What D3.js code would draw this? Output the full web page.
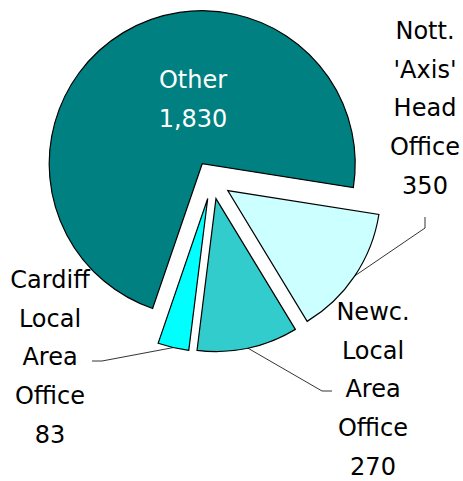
<!DOCTYPE html>
<html>
<head>
<meta charset="utf-8">
<script src="https://cdn.jsdelivr.net/npm/d3@7"></script>
<style>
  html, body { margin: 0; padding: 0; background: #fff; }
  svg { display: block; }
  text { font-family: Tahoma, "DejaVu Sans", sans-serif; font-size: 24px; }
</style>
</head>
<body>
<div id="chart"></div>
<script>
// Staff by office
const categories = ["Nott. 'Axis' Head Office", "Newc. Local Area Office", "Cardiff Local Area Office", "Other"];
const values = [350, 270, 83, 1830];
const labelLines = [
  ["Nott.", "'Axis'", "Head", "Office"],
  ["Newc.", "Local", "Area", "Office"],
  ["Cardiff", "Local", "Area", "Office"],
  ["Other"]
];
const colors = ["#CCFFFF", "#33CCCC", "#00FFFF", "#008080"];

const width = 463, height = 481;
const cx = 212, cy = 180, radius = 153, explode = 19;
const lineStep = 38.7;

// label block placement and leader elbows
const labelLayout = [
  { x: 425, y: 39, fill: "#000", leader: [[425, 217], [425, 228]] },
  { x: 373, y: 320, fill: "#000", leader: [[332, 391], [322, 391]] },
  { x: 50, y: 288, fill: "#000", leader: [[92, 361], [102, 361]] },
  { x: 193, y: 88, fill: "#fff", leader: null }
];

const data = categories.map((c, i) => ({ category: c, value: values[i], lines: labelLines[i] }));

const svg = d3.select("#chart").append("svg")
  .attr("width", width).attr("height", height);

const deg = Math.PI / 180;
const pie = d3.pie().value(d => d.value).sort(null)
  .startAngle(99 * deg).endAngle(459 * deg);
const arcs = pie(data);
const arc = d3.arc().innerRadius(0).outerRadius(radius);

const mid = a => (a.startAngle + a.endAngle) / 2;
const offset = a => [explode * Math.sin(mid(a)), -explode * Math.cos(mid(a))];

const g = svg.append("g").attr("transform", `translate(${cx},${cy})`);

g.selectAll("path.slice").data(arcs).join("path")
  .attr("class", "slice")
  .attr("transform", a => `translate(${offset(a)[0]},${offset(a)[1]})`)
  .attr("d", arc)
  .attr("fill", (a, i) => colors[i])
  .attr("stroke", "#000")
  .attr("stroke-width", 1.2)
  .attr("stroke-linejoin", "miter");

// leader lines from the rim of each slice to its label
const fmt = d3.format(",");
arcs.forEach((a, i) => {
  const L = labelLayout[i];
  if (!L.leader) return;
  const o = offset(a);
  const rim = [cx + o[0] + radius * Math.sin(mid(a)), cy + o[1] - radius * Math.cos(mid(a))];
  const pts = L.leader.concat([rim]);
  svg.append("path")
    .attr("d", d3.line()(pts))
    .attr("fill", "none")
    .attr("stroke", "#000")
    .attr("stroke-width", 0.8);
});

// labels: category name lines followed by the value
arcs.forEach((a, i) => {
  const L = labelLayout[i];
  const lines = a.data.lines.concat([fmt(a.data.value)]);
  const t = svg.append("text")
    .attr("text-anchor", "middle")
    .attr("fill", L.fill);
  lines.forEach((s, k) => {
    t.append("tspan").attr("x", L.x).attr("y", L.y + k * lineStep).text(s);
  });
});
</script>
</body>
</html>
